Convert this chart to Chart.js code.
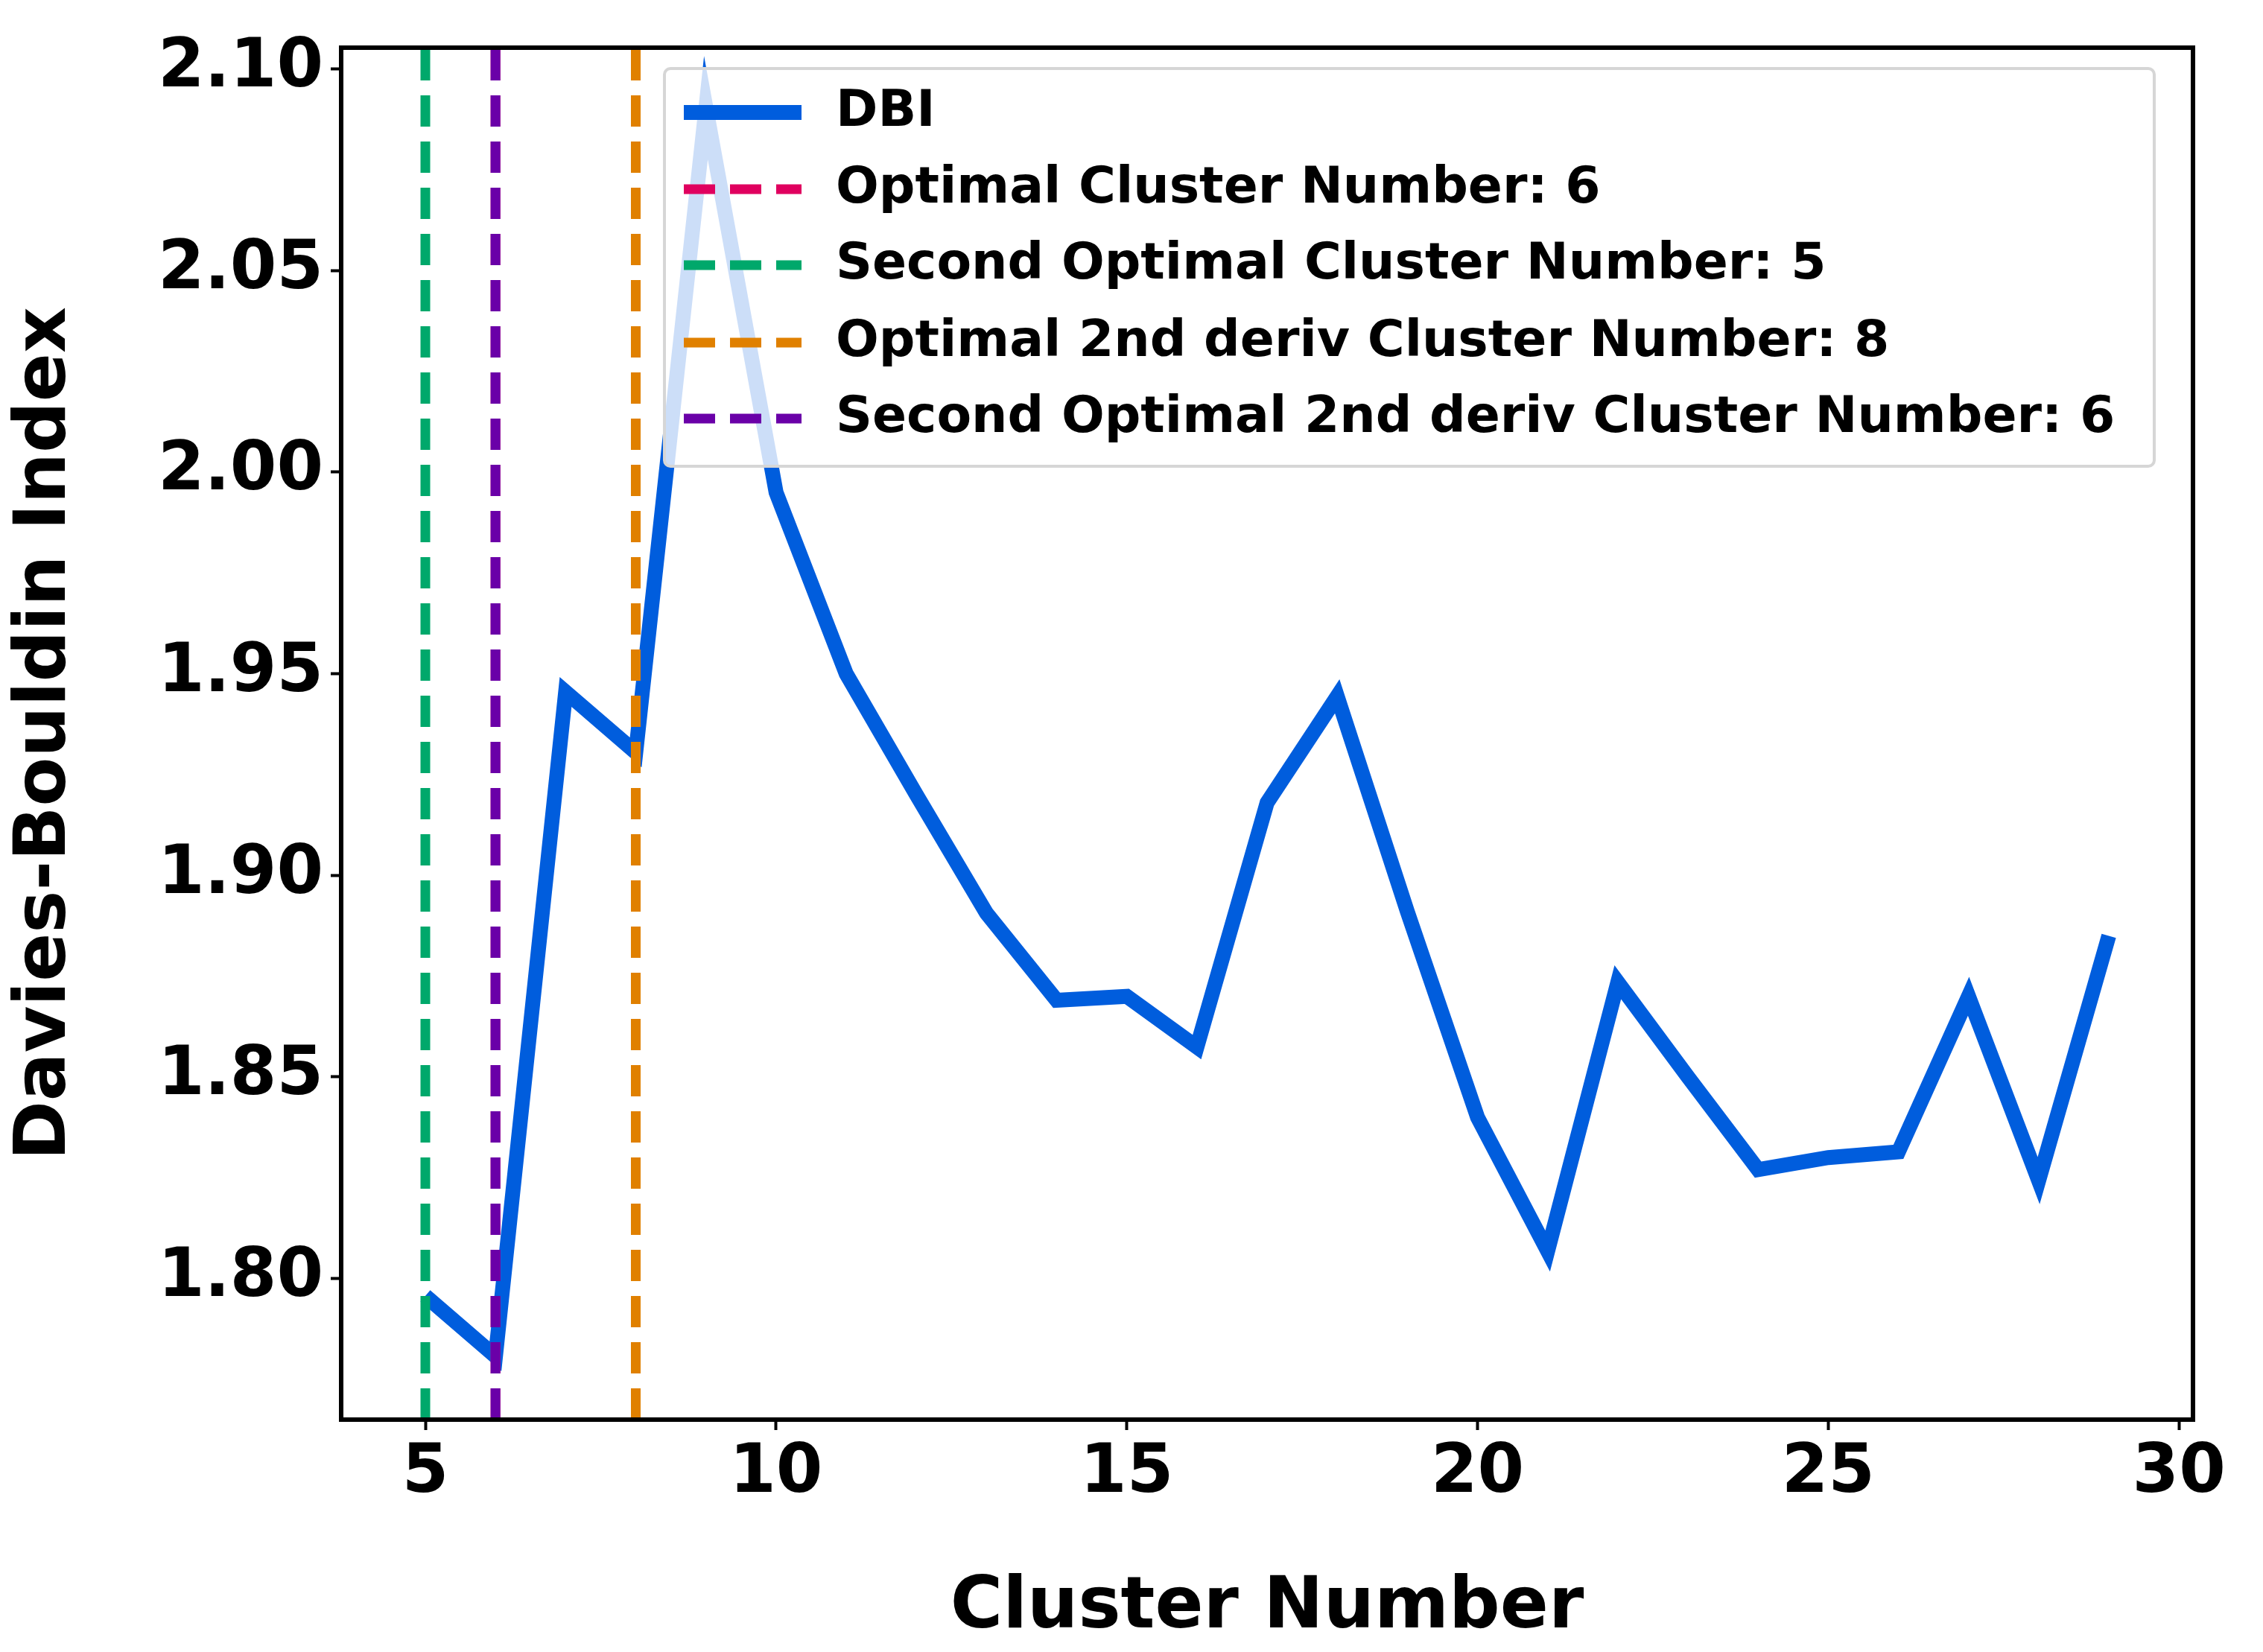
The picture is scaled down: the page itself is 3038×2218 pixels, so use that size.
<!DOCTYPE html>
<html><head><meta charset="utf-8">
<script src="https://cdn.jsdelivr.net/npm/chart.js@4/dist/chart.umd.min.js"></script>
<style>html,body{margin:0;background:#fff}</style>
</head><body>
<canvas id="c" width="3038" height="2218"></canvas>
<script>
// Davies-Bouldin index vs cluster number
const clusters = [5,6,7,8,9,10,11,12,13,14,15,16,17,18,19,20,21,22,23,24,25,26,27,28,29];
const dbi = [1.7957,1.7807,1.9455,1.9305,2.0904,1.995,1.950,1.920,1.8906,1.869,1.870,1.8574,1.918,1.9444,1.891,1.840,1.8068,1.8735,1.850,1.827,1.830,1.8314,1.870,1.8243,1.885];
const vlineLabels = ['Optimal Cluster Number: 6','Second Optimal Cluster Number: 5','Optimal 2nd deriv Cluster Number: 8','Second Optimal 2nd deriv Cluster Number: 6'];
const vlineX = [6,5,8,6];
const vlineColors = ['#e0005f','#00a86b','#e08000','#6a00a8'];
const xTicks = [5,10,15,20,25,30];
const yTicks = [1.80,1.85,1.90,1.95,2.00,2.05,2.10];
const Y_MIN = 1.765, Y_MAX = 2.1053;

const FONT = 'DejaVu Sans';
const datasets = [{
  label:'DBI', data: clusters.map((c,i)=>({x:c,y:dbi[i]})),
  borderColor:'#005ddd', borderWidth:20, pointRadius:0, order:5, tension:0
}];
vlineX.forEach((x,i)=>datasets.push({
  label: vlineLabels[i], data:[{x,y:Y_MIN},{x,y:Y_MAX}],
  borderColor: vlineColors[i], borderWidth:13, borderDash:[42,20], pointRadius:0, order:4-i
}));

const legendPlugin = {
  id:'boxLegend',
  afterDraw(chart){
    const ctx = chart.ctx, a = chart.chartArea;
    ctx.save();
    ctx.strokeStyle='#000'; ctx.lineWidth=6;
    ctx.strokeRect(a.left,a.top,a.right-a.left,a.bottom-a.top);
    const bx=892, by=92, bw=2000, bh=534;
    ctx.fillStyle='rgba(255,255,255,0.8)'; ctx.strokeStyle='#d6d6d6'; ctx.lineWidth=4;
    ctx.beginPath(); ctx.roundRect(bx,by,bw,bh,8); ctx.fill(); ctx.stroke();
    const rows=[151,254,356,460,562];
    chart.data.datasets.forEach((d,i)=>{
      ctx.strokeStyle=d.borderColor; ctx.lineWidth=d.borderWidth;
      ctx.setLineDash(d.borderDash||[]);
      ctx.beginPath(); ctx.moveTo(918,rows[i]); ctx.lineTo(1076,rows[i]); ctx.stroke();
      ctx.setLineDash([]);
      ctx.fillStyle='#000'; ctx.font='bold 68px "'+FONT+'"'; ctx.textBaseline='middle';
      ctx.fillText(d.label,1122,rows[i]);
    });
    ctx.restore();
  }
};

new Chart(document.getElementById('c'),{
  type:'line',
  data:{datasets},
  plugins:[legendPlugin],
  options:{
    responsive:false, devicePixelRatio:1, animation:false,
    layout:{padding:{top:59,right:94,left:0,bottom:0}},
    plugins:{legend:{display:false},tooltip:{enabled:false}},
    scales:{
      x:{type:'linear',min:3.8,max:30.2,
        afterBuildTicks:s=>{s.ticks=xTicks.map(v=>({value:v}));},
        afterFit:s=>{s.height=312;},
        grid:{drawOnChartArea:false,tickLength:14,tickWidth:4,color:'#000'},
        border:{display:false},
        ticks:{color:'#000',font:{family:FONT,size:90,weight:'bold'},padding:6,maxRotation:0},
        title:{display:true,text:'Cluster Number',color:'#000',font:{family:FONT,size:96,weight:'bold'},padding:{top:0,bottom:0}}
      },
      y:{type:'linear',min:Y_MIN,max:Y_MAX,
        afterBuildTicks:s=>{s.ticks=yTicks.map(v=>({value:v}));},
        afterFit:s=>{s.width=458;},
        grid:{drawOnChartArea:false,tickLength:14,tickWidth:4,color:'#000'},
        border:{display:false},
        ticks:{color:'#000',font:{family:FONT,size:90,weight:'bold'},padding:10,callback:v=>v.toFixed(2)},
        title:{display:true,text:'Davies-Bouldin Index',color:'#000',font:{family:FONT,size:96,weight:'bold'},padding:{bottom:0}}
      }
    }
  }
});
</script>
</body></html>
